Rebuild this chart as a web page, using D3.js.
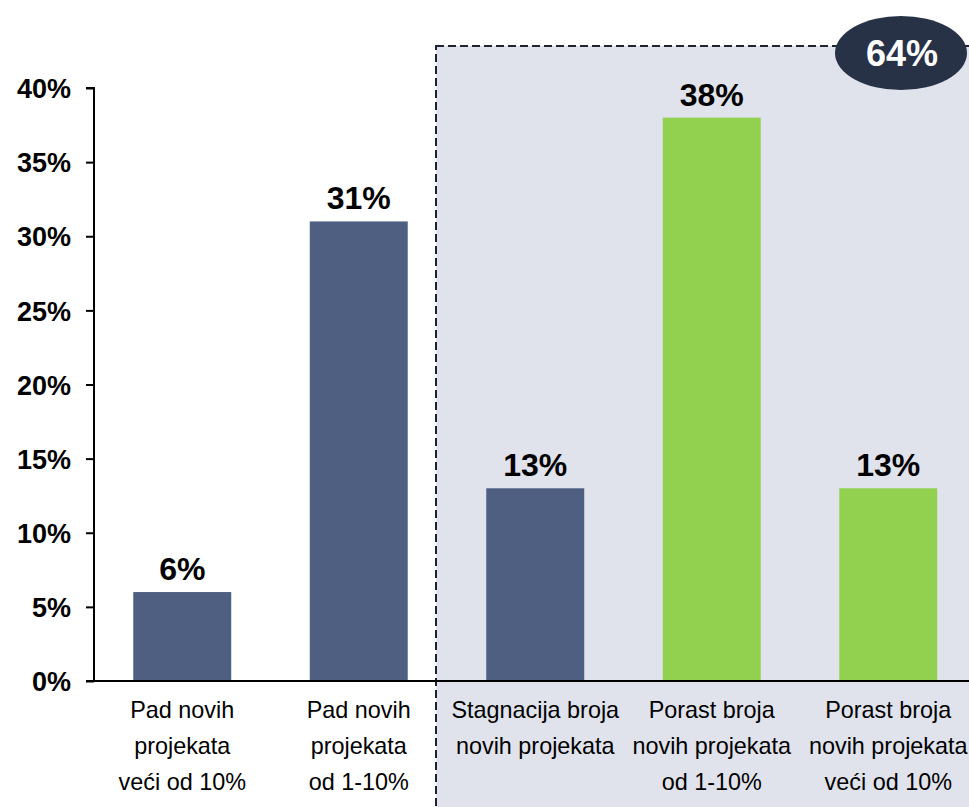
<!DOCTYPE html>
<html><head><meta charset="utf-8">
<script src="https://cdn.jsdelivr.net/npm/d3@7"></script>
<style>body{margin:0;background:#fff}svg{display:block}</style>
</head><body>
<svg id="c" width="969" height="807"></svg>
<script>
const categories = [
  ["Pad novih","projekata","veći od 10%"],
  ["Pad novih","projekata","od 1-10%"],
  ["Stagnacija broja","novih projekata"],
  ["Porast broja","novih projekata","od 1-10%"],
  ["Porast broja","novih projekata","veći od 10%"]
];
const values = [6, 31, 13, 38, 13];
const barColors = ["#4e5f82","#4e5f82","#4e5f82","#92d050","#92d050"];
const yTicks = [0,5,10,15,20,25,30,35,40];
const highlightLabel = "64%";

const svg = d3.select("#c");
const font = "'Liberation Sans', Arial, sans-serif";
const y = d3.scaleLinear().domain([0,40]).range([681,88]);
const x = d3.scaleBand().domain(d3.range(values.length)).range([94,976.5]).paddingInner(0.445).paddingOuter(0.2225);

// shaded region
const left = 436;
svg.append("rect").attr("x",left).attr("y",46).attr("width",969-left+5).attr("height",807-46+5)
  .attr("fill","#e0e3ec").attr("stroke","#1f2330").attr("stroke-width",2).attr("stroke-dasharray","8,4");

// bars
svg.selectAll("rect.bar").data(values).join("rect").attr("class","bar")
  .attr("x",(d,i)=>x(i)).attr("width",x.bandwidth())
  .attr("y",d=>y(d)).attr("height",d=>y(0)-y(d))
  .attr("fill",(d,i)=>barColors[i]);

// value labels
svg.selectAll("text.val").data(values).join("text").attr("class","val")
  .attr("x",(d,i)=>x(i)+x.bandwidth()/2).attr("y",d=>y(d)-12)
  .attr("text-anchor","middle").attr("font-family",font).attr("font-weight","bold")
  .attr("font-size",32).attr("fill","#000").text(d=>d+"%");

// y axis
const yAxis = d3.axisLeft(y).tickValues(yTicks).tickFormat(d=>d+"%").tickSize(8).tickPadding(15);
const gy = svg.append("g").attr("transform","translate(94,0)").call(yAxis);
gy.select(".domain").attr("stroke","#000").attr("stroke-width",2).attr("d","M-8,88H0V681");
gy.selectAll(".tick line").attr("stroke","#000").attr("stroke-width",2);
gy.selectAll(".tick text").attr("font-family",font).attr("font-weight","bold").attr("font-size",27).attr("fill","#000").attr("dy","0.36em");

// x axis line
svg.append("line").attr("x1",86).attr("x2",969).attr("y1",681).attr("y2",681).attr("stroke","#000").attr("stroke-width",2);

// category labels
const cg = svg.selectAll("text.cat").data(categories).join("text").attr("class","cat")
  .attr("text-anchor","middle").attr("font-family",font).attr("font-size",23.4).attr("fill","#000");
cg.each(function(lines,i){
  d3.select(this).selectAll("tspan").data(lines).join("tspan")
    .attr("x",x(i)+x.bandwidth()/2).attr("y",(d,j)=>718+j*36).text(d=>d);
});

// ellipse badge
svg.append("ellipse").attr("cx",901).attr("cy",53).attr("rx",66).attr("ry",37).attr("fill","#283247");
svg.append("text").attr("x",902).attr("y",53).attr("dy","0.36em").attr("text-anchor","middle")
  .attr("font-family",font).attr("font-weight","bold").attr("font-size",36).attr("fill","#fff").text(highlightLabel);
</script>
</body></html>
